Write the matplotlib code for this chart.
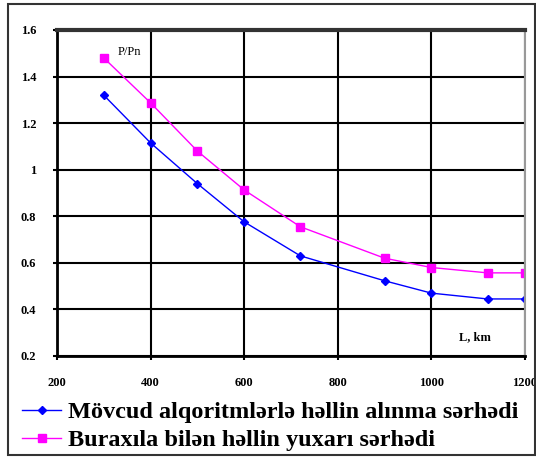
import matplotlib
matplotlib.use("Agg")
import matplotlib.pyplot as plt
from matplotlib.patches import Rectangle

L_blue = [300, 400, 500, 600, 720, 900, 1000, 1120, 1200]
P_blue = [1.32, 1.115, 0.94, 0.776, 0.63, 0.523, 0.47, 0.445, 0.445]
L_mag = [300, 400, 500, 600, 720, 900, 1000, 1120, 1200]
P_mag = [1.48, 1.287, 1.08, 0.913, 0.755, 0.62, 0.58, 0.557, 0.557]
xticks = [200, 400, 600, 800, 1000, 1200]
yticks = [0.2, 0.4, 0.6, 0.8, 1.0, 1.2, 1.4, 1.6]
ylabels = ["0.2", "0.4", "0.6", "0.8", "1", "1.2", "1.4", "1.6"]
label_blue = "Mövcud alqoritmlərlə həllin alınma sərhədi"
label_mag = "Buraxıla bilən həllin yuxarı sərhədi"

plt.rcParams['font.family'] = ['Liberation Serif', 'DejaVu Serif']

fig = plt.figure(figsize=(5.36, 4.58), dpi=100)
ax = fig.add_axes([57/536, 1-356/458, (525-57)/536, (356-30)/458])

lb, = ax.plot(L_blue, P_blue, color='#0000ff', lw=1, marker='D', ms=4)
lm, = ax.plot(L_mag, P_mag, color='#ff00ff', lw=1, marker='s', ms=6)

ax.set_xlim(200, 1200)
ax.set_ylim(0.2, 1.6)
ax.set_xticks(xticks)
ax.set_xticklabels([str(t) for t in xticks], fontsize=9, fontweight='bold')
ax.set_yticks(yticks)
ax.set_yticklabels(ylabels, fontsize=9, fontweight='bold')
ax.grid(True, color='black', lw=1.5)
ax.set_axisbelow(True)
for s in ['left', 'bottom']:
    ax.spines[s].set_linewidth(2)
ax.spines['top'].set_linewidth(3)
ax.spines['top'].set_color('#333333')
ax.spines['right'].set_color('#999999')
ax.spines['right'].set_linewidth(1.5)
ax.tick_params(length=3, width=1.5, pad=12)

ax.text(330, 1.505, "P/Pn", fontsize=9, ha='left', va='center')
ax.text(1060, 0.28, "L, km", fontsize=9, fontweight='bold', ha='left', va='center')

fig.legend([lb, lm], [label_blue, label_mag], loc='upper left',
           bbox_to_anchor=(10/536, 1 - 389/458), frameon=False,
           prop={'family': ['Liberation Serif', 'DejaVu Serif'], 'weight': 'bold', 'size': 17.5},
           handlelength=1.6, handletextpad=0.3, labelspacing=0.25, borderpad=0)

fig.patches.append(Rectangle((8/536, 3/458), 527/536, 451/458, transform=fig.transFigure,
                             fill=False, edgecolor='#333333', lw=1.5))

fig.savefig("out.png", dpi=100)
